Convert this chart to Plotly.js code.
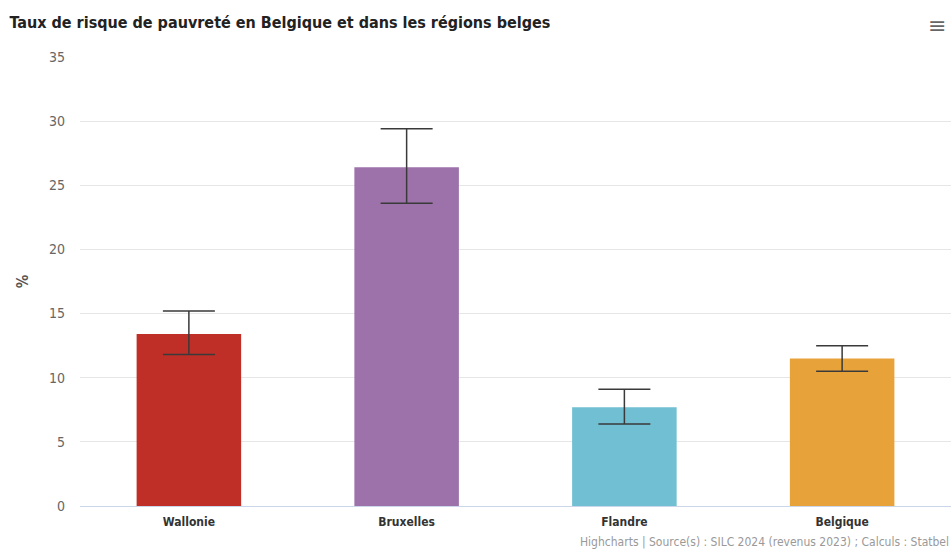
<!DOCTYPE html>
<html>
<head>
<meta charset="utf-8">
<script src="https://cdn.plot.ly/plotly-3.0.1.min.js"></script>
<style>
html,body{margin:0;padding:0;background:#fff;}
#chart{width:952px;height:552px;}
</style>
</head>
<body>
<div id="chart"></div>
<script>
const categories = ["Wallonie", "Bruxelles", "Flandre", "Belgique"];
const values = [13.4, 26.4, 7.7, 11.5];
const upperBounds = [15.2, 29.4, 9.1, 12.5];
const lowerBounds = [11.8, 23.6, 6.4, 10.5];
const barColors = ["#bf2f27", "#9d72aa", "#71bfd2", "#e8a23a"];
const yTicks = [0, 5, 10, 15, 20, 25, 30, 35];

const FONT = '"Liberation Sans Narrow", "DejaVu Sans Condensed", "Roboto", sans-serif';

const trace = {
  type: "bar",
  x: categories,
  y: values,
  marker: { color: barColors, line: { width: 0 } },
  error_y: {
    type: "data",
    symmetric: false,
    array: upperBounds.map((u, i) => u - values[i]),
    arrayminus: values.map((v, i) => v - lowerBounds[i]),
    color: "#3a3a3a",
    thickness: 1.5,
    width: 26
  },
  hoverinfo: "x+y"
};

const layout = {
  width: 952,
  height: 552,
  margin: { l: 80, r: 1, t: 57, b: 46 },
  paper_bgcolor: "#ffffff",
  plot_bgcolor: "#ffffff",
  bargap: 0.52,
  showlegend: false,
  font: { family: FONT, color: "#333" },
  title: {
    text: "<b>Taux de risque de pauvreté en Belgique et dans les régions belges</b>",
    x: 0.01, xanchor: "left", y: 0.96, yanchor: "middle",
    font: { family: FONT, size: 16, color: "#222" }
  },
  xaxis: {
    type: "category",
    tickvals: categories,
    ticktext: categories.map(c => "<b>" + c + "</b>"),
    tickfont: { family: FONT, size: 12, color: "#333" },
    showline: true, linecolor: "#ccd6eb", linewidth: 1,
    ticks: "", showgrid: false, zeroline: false,
    ticklabelstandoff: 5
  },
  yaxis: {
    range: [0, 35],
    tickvals: yTicks,
    ticktext: yTicks.map(String),
    tickfont: { family: FONT, size: 14, color: "#666" },
    gridcolor: "#e6e6e6", gridwidth: 1,
    zeroline: false, showline: false, ticks: "",
    ticklabelstandoff: 14,
    title: { text: "<b>%</b>", font: { family: FONT, size: 15, color: "#555" }, standoff: 16 }
  },
  annotations: [
    {
      xref: "paper", yref: "paper", x: 1, y: -0.08, xanchor: "right", yanchor: "middle",
      text: "Highcharts | Source(s) : SILC 2024 (revenus 2023) ; Calculs : Statbel",
      showarrow: false, font: { family: FONT, size: 12, color: "#999" }
    },
    {
      xref: "paper", yref: "paper", x: 0.996, y: 1.07, xanchor: "right", yanchor: "middle",
      text: "≡", showarrow: false, font: { family: "DejaVu Sans", size: 22, color: "#666" }
    }
  ]
};

Plotly.newPlot("chart", [trace], layout, { displayModeBar: false, staticPlot: true });
</script>
</body>
</html>
